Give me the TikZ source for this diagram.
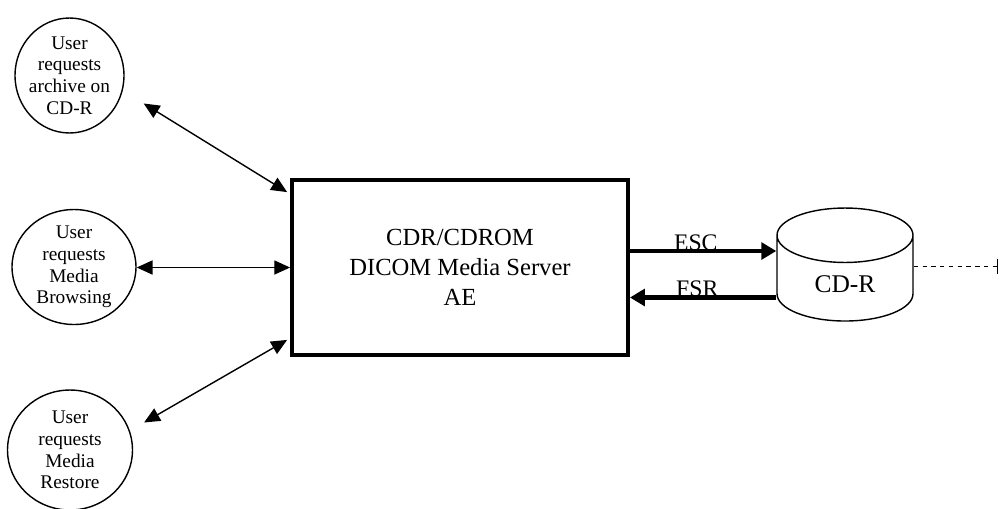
\documentclass[tikz,border=0pt]{standalone}
\usepackage{fontspec}
\setmainfont{Liberation Serif}
\usetikzlibrary{positioning, shapes.geometric, arrows.meta}

\tikzset{
  user/.style={draw, ellipse, inner sep=-4pt, line width=0.8pt, align=center, font=\fontsize{11}{12.3}\selectfont},
  server/.style={draw, rectangle, line width=2.2pt, minimum width=6.72cm, minimum height=3.5cm, align=center, font=\fontsize{14}{17}\selectfont},
  disk/.style={draw, cylinder, shape border rotate=90, aspect=0.75, line width=0.8pt, minimum width=2.72cm, minimum height=2.26cm, font=\fontsize{14.5}{17}\selectfont},
  link/.style={line width=0.8pt, {Triangle[length=9pt, width=8pt]}-{Triangle[length=9pt, width=8pt]}},
  flow/.style={line width=2.4pt, -{Triangle[length=8.5pt, width=9.5pt]}},
  flowlabel/.style={anchor=base, yshift=0.3pt, font=\fontsize{13.5}{15}\selectfont}
}

\begin{document}
\begin{tikzpicture}[x=0.02cm, y=-0.02cm]
\useasboundingbox (0,0) rectangle (1000,508);

\node[user, minimum width=2.18cm, minimum height=2.3cm] (archive) at (69.5,75.5) {User\\requests\\archive on\\CD-R};
\node[user, minimum width=2.48cm, minimum height=2.3cm] (browse) at (74,267) {User\\requests\\Media\\Browsing};
\node[user, minimum width=2.5cm, minimum height=2.4cm] (restore) at (70,450) {User\\requests\\Media\\Restore};

\node[server] (server) at (460,267.5) {CDR/CDROM\\DICOM Media Server\\AE};
\node[disk] (cdr) at (845,284) {CD-R};
\coordinate (edge) at (998,266.5);

\draw[link] ([shift={(22,9)}]archive.-20) -- ([shift={(-3,14)}]server.north west);
\draw[link] (browse.east |- server.west) -- (server.west);
\draw[link] ([shift={(15,-6)}]restore.20) -- ([shift={(-3,-17)}]server.south west);

\draw[flow] ([yshift=0.33cm]server.east) -- ([yshift=0.33cm]server.east -| cdr.west) node[flowlabel, pos=0.45] {ESC};
\draw[flow] ([yshift=-0.6cm]server.east -| cdr.west) -- ([yshift=-0.6cm]server.east) node[flowlabel, pos=0.54] {FSR};

\draw[line width=0.8pt, dash pattern=on 2.5pt off 2.5pt, -{Bar[width=8pt]}] (cdr.east |- edge) -- (edge);

\end{tikzpicture}
\end{document}
